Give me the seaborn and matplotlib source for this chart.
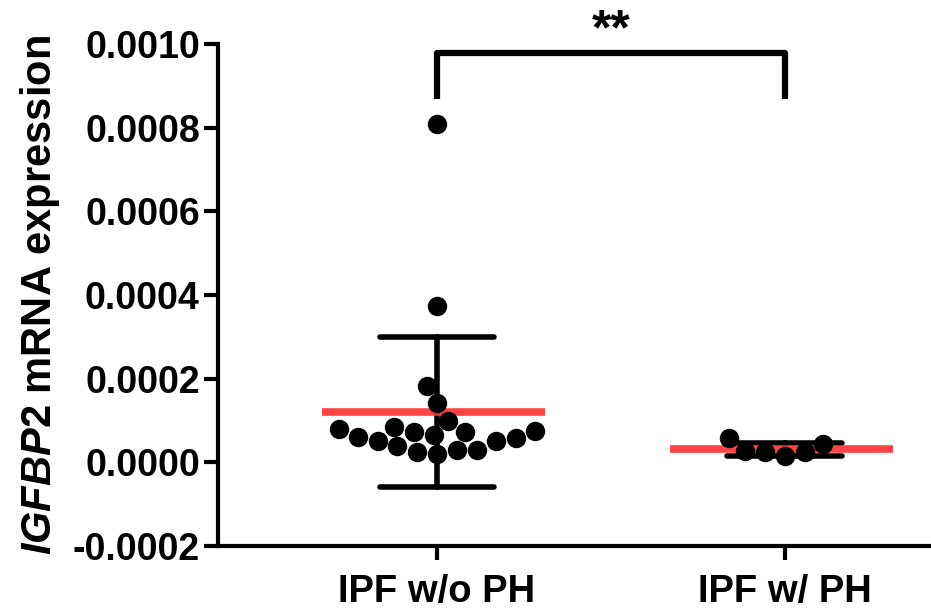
import numpy as np
import pandas as pd
import matplotlib
matplotlib.use('Agg')
import matplotlib.pyplot as plt
import seaborn as sns
from matplotlib.ticker import FormatStrFormatter

# values
groups = ['IPF w/o PH', 'IPF w/ PH']

no_ph = [0.000809, 0.000373, 0.000182, 0.000141, 0.000098, 0.000084, 0.000079,
         0.000074, 0.000072, 0.000072, 0.000065, 0.000060, 0.000057, 0.000050,
         0.000050, 0.000038, 0.000029, 0.000029, 0.000024, 0.000019]
with_ph = [0.000057, 0.000043, 0.000026, 0.000024, 0.000024, 0.000014]

y_ticks = [-0.0002, 0.0, 0.0002, 0.0004, 0.0006, 0.0008, 0.0010]
sig_label = '**'

df = pd.DataFrame({
    'group': [groups[0]] * len(no_ph) + [groups[1]] * len(with_ph),
    'value': no_ph + with_ph,
})

sns.set_style('ticks')
plt.rcParams['font.family'] = ['Liberation Sans', 'DejaVu Sans']
plt.rcParams['axes.unicode_minus'] = False
plt.rcParams['mathtext.fontset'] = 'custom'
plt.rcParams['mathtext.it'] = 'Liberation Sans:italic:bold'
plt.rcParams['mathtext.rm'] = 'Liberation Sans:bold'
for k in ['text.color', 'axes.labelcolor', 'xtick.color', 'ytick.color']:
    plt.rcParams[k] = 'black'

fig = plt.figure(figsize=(9.31, 6.14), dpi=100)
ax = fig.add_axes([0.234, 0.111, 0.766, 0.817])

# mean +/- SD error bars
sns.pointplot(data=df, x='group', y='value', order=groups, errorbar='sd',
              capsize=0.33, color='black', linestyle='none', marker='',
              err_kws={'linewidth': 4}, ax=ax)

# red mean lines
means = df.groupby('group')['value'].mean().reindex(groups)
pos = np.arange(len(groups))
ax.hlines(means.values, pos - 0.33, pos + 0.31, color='#ff3030', lw=5.5,
          alpha=0.9, zorder=4)

sns.swarmplot(data=df, x='group', y='value', order=groups, color='black',
              size=14, ax=ax, zorder=5)

# significance bracket
ax.plot([0, 0, 1, 1], [0.000868, 0.000978, 0.000978, 0.000868], color='black',
        lw=4.5, clip_on=False, solid_capstyle='butt')
ax.text(0.5, 0.00103, sig_label, ha='center', va='center', fontsize=36,
        fontweight='bold')

ax.set_ylim(-0.0002, 0.0010)
ax.set_xlim(-0.63, 1.42)
ax.set_yticks(y_ticks)
ax.yaxis.set_major_formatter(FormatStrFormatter('%.4f'))
ax.set_xlabel('')
ax.set_ylabel(r'$\mathit{IGFBP2}$ mRNA expression', fontsize=30,
              fontweight='bold', labelpad=8)

ax.tick_params(axis='both', width=3, length=10, color='black')
ax.tick_params(axis='y', labelsize=27, pad=3)
ax.tick_params(axis='x', labelsize=27.5, pad=10)
for lab in ax.get_xticklabels() + ax.get_yticklabels():
    lab.set_fontweight('bold')

sns.despine(ax=ax)
for s in ['left', 'bottom']:
    ax.spines[s].set_linewidth(3)
    ax.spines[s].set_color('black')

fig.savefig('out.png', dpi=100)
